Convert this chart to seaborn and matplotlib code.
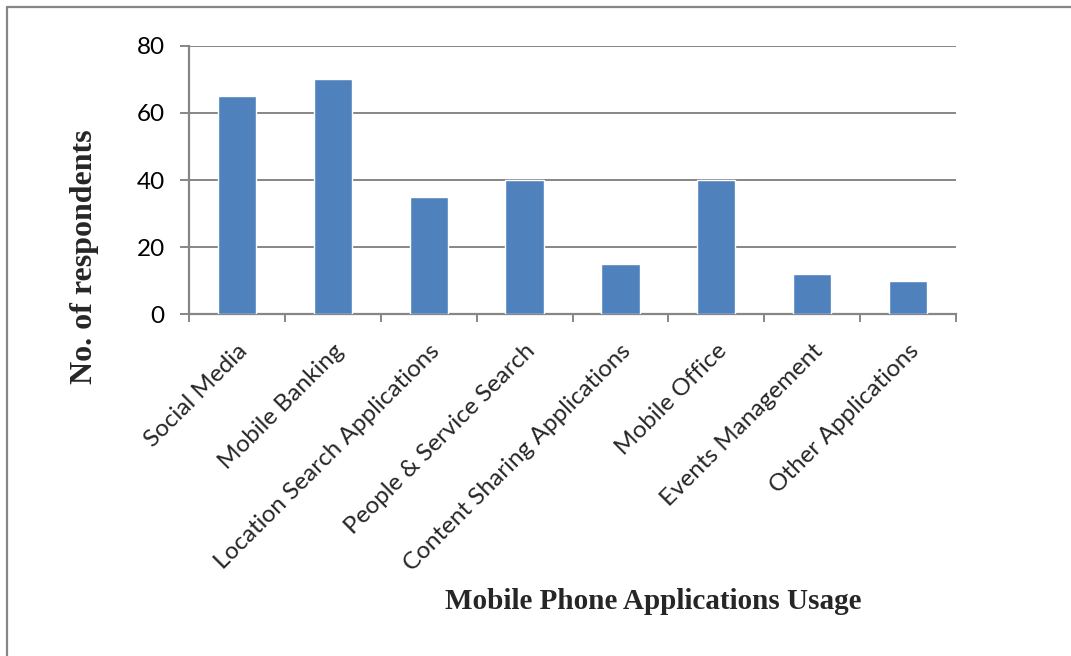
import matplotlib
matplotlib.use("Agg")
import matplotlib.pyplot as plt
import seaborn as sns
import pandas as pd
from matplotlib.lines import Line2D

categories = [
    "Social Media",
    "Mobile Banking",
    "Location Search Applications",
    "People & Service Search",
    "Content Sharing Applications",
    "Mobile Office",
    "Events Management",
    "Other Applications",
]
respondents = [65, 70, 35, 40, 15, 40, 12, 10]
y_ticks = [0, 20, 40, 60, 80]

df = pd.DataFrame({"app": categories, "count": respondents})

sns.set_theme(style="white")
plt.rcParams["font.family"] = ["Lato", "DejaVu Sans"]

grey = "#868686"
fig = plt.figure(figsize=(10.71, 6.56), dpi=100)
ax = fig.add_axes([0.1765, 0.5213, 0.7161, 0.4086])

sns.barplot(data=df, x="app", y="count", color="#4F81BD", width=0.4,
            saturation=1, ax=ax, zorder=3)

ax.set_xlim(-0.5, len(categories) - 0.5)
ax.set_ylim(0, 80)
ax.set_yticks(y_ticks)
ax.yaxis.grid(True, color=grey, linewidth=1.4, zorder=0)
ax.xaxis.grid(False)

for side in ["top", "right"]:
    ax.spines[side].set_visible(False)
for side in ["left", "bottom"]:
    ax.spines[side].set_color(grey)
    ax.spines[side].set_linewidth(1.6)

ax.tick_params(axis="y", length=6.5, width=1.4, color=grey, pad=11,
               labelsize=17.5, left=True, labelcolor="black")
ax.set_xticks(range(len(categories)))
ax.set_xticklabels(categories, rotation=45, ha="right",
                   rotation_mode="anchor", fontsize=17.5)
ax.tick_params(axis="x", which="major", length=0, pad=19)
ax.set_xticks([i - 0.5 for i in range(len(categories) + 1)], minor=True)
ax.tick_params(axis="x", which="minor", length=6, width=1.4, color=grey,
               bottom=True)

ax.set_xlabel("")
ax.set_ylabel("")
fig.text(0.610, 0.083, "Mobile Phone Applications Usage",
         family="Liberation Serif", fontweight="bold", fontsize=21,
         ha="center", va="center")
fig.text(0.079, 0.608, "No. of respondents", family="Liberation Serif",
         fontweight="bold", fontsize=23, rotation=90,
         ha="center", va="center")

# frame lines along the left and top edges
fig.add_artist(Line2D([0.0065, 0.0065], [0.0, 0.989], transform=fig.transFigure,
                      color=grey, linewidth=1.6))
fig.add_artist(Line2D([0.0065, 1.0], [0.989, 0.989], transform=fig.transFigure,
                      color=grey, linewidth=1.6))

fig.savefig("out.png", dpi=100)
